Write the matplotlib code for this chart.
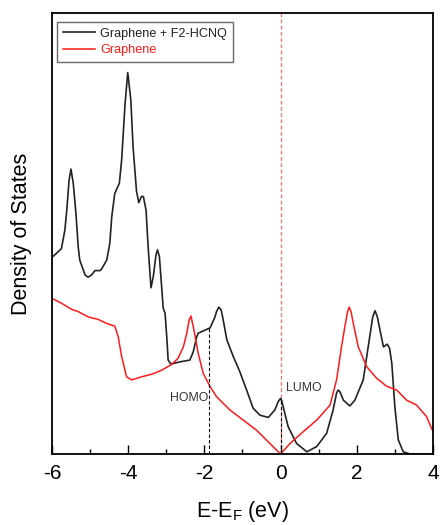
import matplotlib
matplotlib.use("Agg")
import matplotlib.pyplot as plt
from matplotlib.ticker import MultipleLocator

plt.rcParams['font.family'] = ['Liberation Sans', 'DejaVu Sans']
plt.rcParams['axes.unicode_minus'] = False
plt.rcParams['mathtext.fontset'] = 'custom'
plt.rcParams['mathtext.rm'] = 'Liberation Sans'
plt.rcParams['mathtext.it'] = 'Liberation Sans'

# Graphene + F2-HCNQ
black_x = [-6.0, -5.88, -5.75, -5.66, -5.61, -5.55, -5.50, -5.44, -5.37, -5.31, -5.27, -5.13,
           -5.05, -4.96, -4.87, -4.74, -4.70, -4.56, -4.48, -4.43, -4.35, -4.23, -4.17, -4.08,
           -4.01, -3.93, -3.87, -3.78, -3.72, -3.65, -3.60, -3.53, -3.47, -3.40, -3.34, -3.27,
           -3.23, -3.18, -3.12, -3.08, -3.03, -2.98, -2.95, -2.88, -2.64, -2.38, -2.29, -2.20,
           -2.16, -1.98, -1.85, -1.72, -1.68, -1.62, -1.56, -1.52, -1.41, -1.24, -1.07, -0.89,
           -0.72, -0.54, -0.32, -0.15, -0.06, 0.0, 0.03, 0.07, 0.20, 0.42, 0.69, 0.95, 1.21,
           1.38, 1.47, 1.51, 1.56, 1.65, 1.82, 1.95, 2.17, 2.30, 2.42, 2.48, 2.54, 2.61, 2.70,
           2.80, 2.86, 2.92, 3.00, 3.09, 3.22, 3.40, 4.0]
black_y = [4.46, 4.55, 4.66, 5.08, 5.53, 6.21, 6.46, 6.14, 5.46, 4.70, 4.40, 4.06,
           4.01, 4.06, 4.16, 4.16, 4.19, 4.40, 4.78, 5.38, 5.91, 6.14, 6.67, 7.95,
           8.65, 8.04, 6.96, 5.96, 5.70, 5.84, 5.84, 5.53, 4.63, 3.77, 4.02, 4.51,
           4.63, 4.48, 3.79, 3.31, 3.19, 2.58, 2.13, 2.04, 2.09, 2.13, 2.32, 2.66,
           2.74, 2.81, 2.86, 3.11, 3.23, 3.33, 3.27, 3.11, 2.59, 2.21, 1.87, 1.45,
           1.04, 0.88, 0.83, 1.00, 1.19, 1.26, 1.21, 1.07, 0.62, 0.24, 0.05, 0.17, 0.47,
           1.00, 1.38, 1.45, 1.41, 1.22, 1.09, 1.22, 1.68, 2.43, 3.11, 3.25, 3.11, 2.81, 2.43,
           2.49, 2.40, 2.06, 1.07, 0.32, 0.05, 0.0, 0.0]

# Graphene
red_x = [-6.0, -5.75, -5.48, -5.31, -5.05, -4.78, -4.56, -4.35, -4.26, -4.17, -4.04, -3.91,
         -3.65, -3.38, -3.12, -2.86, -2.69, -2.55, -2.46, -2.40, -2.35, -2.33, -2.29, -2.16,
         -2.03, -1.85, -1.68, -1.33, -0.98, -0.63, -0.28, 0.0, 0.25, 0.60, 0.95, 1.30, 1.47,
         1.60, 1.69, 1.76, 1.80, 1.85, 1.91, 2.04, 2.26, 2.52, 2.78, 3.05, 3.31, 3.57, 3.83,
         4.0]
red_y = [3.53, 3.42, 3.28, 3.23, 3.11, 3.05, 2.96, 2.90, 2.66, 2.21, 1.75, 1.68,
         1.75, 1.81, 1.90, 2.03, 2.17, 2.43, 2.74, 3.04, 3.13, 3.04, 2.89, 2.28,
         1.83, 1.53, 1.30, 1.00, 0.77, 0.54, 0.24, 0.0, 0.24, 0.51, 0.77, 1.11, 1.68,
         2.43, 2.90, 3.23, 3.33, 3.23, 2.96, 2.43, 1.98, 1.72, 1.54, 1.45, 1.22, 1.11, 0.85,
         0.51]

homo_x = -1.87
homo_y = 2.86
lumo_x = 0.0
lumo_y = 1.26

xticks = [-6, -4, -2, 0, 2, 4]

fig = plt.figure(figsize=(4.4, 5.25), dpi=100)
ax = fig.add_axes([0.118, 0.1352, 0.866, 0.84])

ax.plot(black_x, black_y, color='#222222', lw=1.2, label='Graphene + F2-HCNQ',
        solid_joinstyle='round')
ax.plot(red_x, red_y, color='#ff1a1a', lw=1.1, label='Graphene', solid_joinstyle='round')

ax.axvline(lumo_x, color='#ff7070', lw=0.9, ls=(0, (3, 2)), zorder=1)
ax.plot([lumo_x, lumo_x], [0, lumo_y], color='black', lw=0.8, ls=(0, (3, 2)))
ax.plot([homo_x, homo_x], [0, homo_y], color='black', lw=0.8, ls=(0, (3, 2)))

ax.text(homo_x - 0.02, 1.28, 'HOMO', ha='right', va='center', fontsize=8.8, color='#333333')
ax.text(0.15, 1.50, 'LUMO', ha='left', va='center', fontsize=8.8, color='#333333')

ax.set_xlim(-6, 4)
ax.set_ylim(0, 10)
ax.set_xticks(xticks)
ax.xaxis.set_minor_locator(MultipleLocator(1))
ax.set_yticks([])
ax.tick_params(axis='x', which='major', direction='in', length=6.5, width=1.0,
               labelsize=15, pad=7, top=False)
ax.tick_params(axis='x', which='minor', direction='in', length=3.6, width=1.0, top=False)
for s in ax.spines.values():
    s.set_linewidth(1.3)

ax.set_xlabel('E-E$_\\mathregular{F}$ (eV)', fontsize=15.5, labelpad=12)
ax.set_ylabel('Density of States', fontsize=15.5, labelpad=14)

leg = ax.legend(loc='upper left', bbox_to_anchor=(0.013, 0.98), borderaxespad=0,
                fontsize=9.1, frameon=True, fancybox=False, handlelength=2.6,
                handletextpad=0.4, labelspacing=0.35, borderpad=0.45)
leg.get_frame().set_edgecolor('#444444')
leg.get_frame().set_linewidth(1.0)
leg.get_texts()[0].set_color('#222222')
leg.get_texts()[1].set_color('#ff1a1a')

fig.savefig('out.png', dpi=100)
